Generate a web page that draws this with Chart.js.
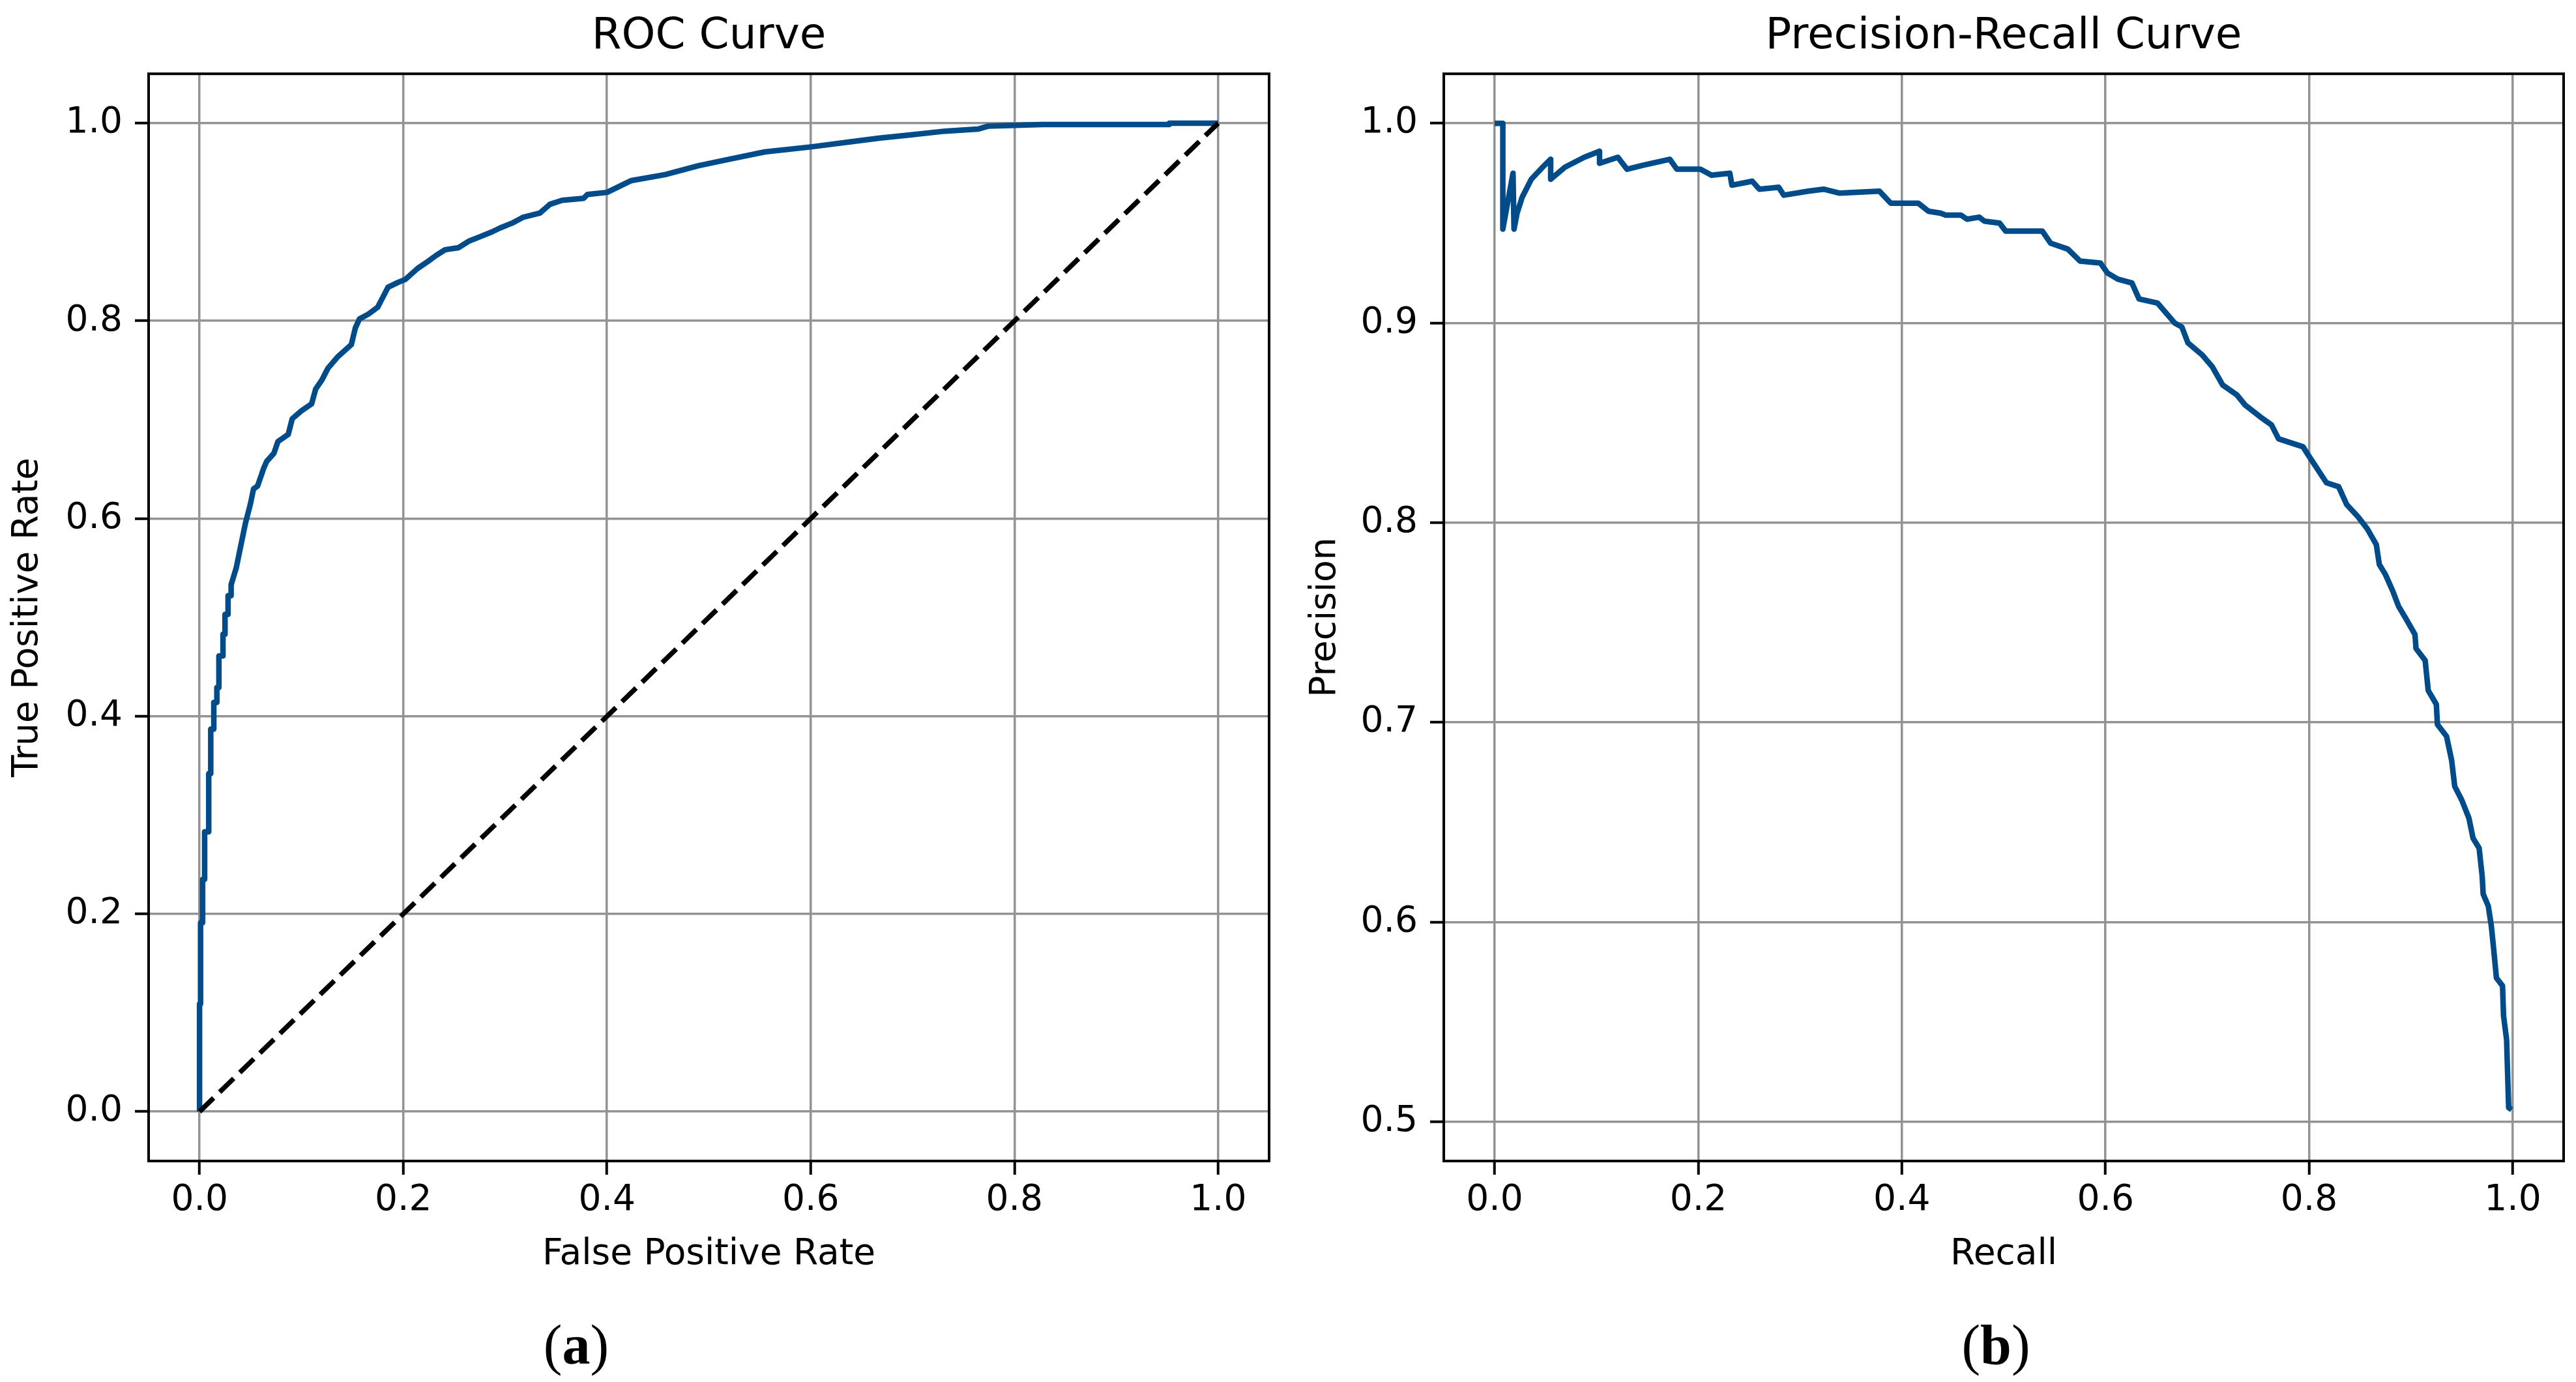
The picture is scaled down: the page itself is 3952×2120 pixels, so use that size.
<!DOCTYPE html>
<html>
<head>
<meta charset="utf-8">
<script src="https://cdn.jsdelivr.net/npm/chart.js@4.4.0/dist/chart.umd.min.js"></script>
<style>
  html, body { margin: 0; padding: 0; background: #ffffff; }
  body { width: 3952px; height: 2120px; position: relative; overflow: hidden; }
  canvas { position: absolute; top: 0; }
  .cap { position: absolute; width: 400px; text-align: center; top: 2020px;
         font-family: "Liberation Serif", "Times New Roman", serif; font-size: 86px;
         line-height: 1; color: #000; font-weight: normal; }
  .cap b { font-weight: bold; }
</style>
</head>
<body>
<canvas id="roc" width="1976" height="2000" style="left:0px;width:1976px;height:2000px"></canvas>
<canvas id="pr" width="1976" height="2000" style="left:1976px;width:1976px;height:2000px"></canvas>
<div class="cap" style="left:684px">(<b>a</b>)</div>
<div class="cap" style="left:2862px">(<b>b</b>)</div>
<script>
// ---------- data ----------
const rocTitle = "ROC Curve";
const prTitle = "Precision-Recall Curve";
const rocXLabel = "False Positive Rate";
const rocYLabel = "True Positive Rate";
const prXLabel = "Recall";
const prYLabel = "Precision";

const xTicks = [0.0, 0.2, 0.4, 0.6, 0.8, 1.0];
const rocYTicks = [0.0, 0.2, 0.4, 0.6, 0.8, 1.0];
const prYTicks = [0.5, 0.6, 0.7, 0.8, 0.9, 1.0];

const rocFpr = [0, 0, 0.001, 0.001, 0.003, 0.003, 0.005, 0.005, 0.009, 0.009, 0.011, 0.011, 0.014, 0.014, 0.017, 0.017, 0.019, 0.019, 0.023, 0.023, 0.025, 0.025, 0.028, 0.028, 0.031, 0.031,
  0.036, 0.040, 0.045, 0.050, 0.053, 0.057, 0.063, 0.066, 0.073, 0.077,
  0.087, 0.091, 0.100, 0.110, 0.114, 0.120, 0.126, 0.136, 0.149, 0.153,
  0.157, 0.166, 0.175, 0.179, 0.185, 0.195, 0.202, 0.214, 0.224, 0.232,
  0.241, 0.254, 0.265, 0.275, 0.287, 0.295, 0.307, 0.318, 0.334, 0.344,
  0.356, 0.377, 0.381, 0.400, 0.424, 0.457, 0.490, 0.522, 0.555, 0.600,
  0.638, 0.668, 0.696, 0.732, 0.764, 0.774, 0.828, 0.952, 0.952, 1.0];
const rocTpr = [0, 0.109, 0.109, 0.191, 0.191, 0.235, 0.235, 0.283, 0.283, 0.342, 0.342, 0.387, 0.387, 0.414, 0.414, 0.429, 0.429, 0.461, 0.461, 0.483, 0.483, 0.503, 0.503, 0.522, 0.522, 0.533,
  0.550, 0.570, 0.595, 0.615, 0.630, 0.633, 0.651, 0.658, 0.666, 0.678,
  0.685, 0.701, 0.709, 0.716, 0.731, 0.740, 0.752, 0.764, 0.776, 0.793,
  0.802, 0.807, 0.814, 0.822, 0.834, 0.839, 0.842, 0.853, 0.860, 0.866,
  0.872, 0.874, 0.881, 0.885, 0.890, 0.894, 0.899, 0.905, 0.909, 0.918,
  0.922, 0.924, 0.928, 0.930, 0.942, 0.948, 0.957, 0.964, 0.971, 0.976,
  0.981, 0.985, 0.988, 0.992, 0.994, 0.997, 0.9987, 0.9987, 1.0, 1.0];

const chanceX = [0, 1];
const chanceY = [0, 1];

const prRecall = [0.000, 0.008, 0.008, 0.018, 0.019, 0.022, 0.027, 0.036, 0.047, 0.055,
  0.055, 0.069, 0.088, 0.103, 0.103, 0.121, 0.130, 0.146, 0.172, 0.179,
  0.202, 0.213, 0.231, 0.233, 0.253, 0.260, 0.279, 0.284, 0.308, 0.323,
  0.339, 0.378, 0.389, 0.416, 0.426, 0.438, 0.443, 0.458, 0.464, 0.476,
  0.481, 0.496, 0.502, 0.538, 0.546, 0.563, 0.575, 0.595, 0.602, 0.612,
  0.626, 0.633, 0.651, 0.668, 0.675, 0.681, 0.695, 0.705, 0.715, 0.729,
  0.737, 0.752, 0.763, 0.770, 0.794, 0.799, 0.817, 0.829, 0.837, 0.848,
  0.857, 0.866, 0.869, 0.875, 0.882, 0.888, 0.895, 0.904, 0.905, 0.914,
  0.917, 0.925, 0.926, 0.935, 0.940, 0.943, 0.950, 0.957, 0.961, 0.967,
  0.970, 0.971, 0.976, 0.979, 0.981, 0.984, 0.990, 0.991, 0.994, 0.996,
  0.999];
const prPrecision = [1.000, 1.000, 0.947, 0.975, 0.947, 0.955, 0.963, 0.972, 0.978, 0.982,
  0.972, 0.978, 0.983, 0.986, 0.980, 0.983, 0.977, 0.979, 0.982, 0.977,
  0.977, 0.974, 0.975, 0.969, 0.971, 0.967, 0.968, 0.964, 0.966, 0.967,
  0.965, 0.966, 0.960, 0.960, 0.956, 0.955, 0.954, 0.954, 0.952, 0.953,
  0.951, 0.950, 0.946, 0.946, 0.940, 0.937, 0.931, 0.930, 0.925, 0.922,
  0.920, 0.912, 0.910, 0.900, 0.898, 0.890, 0.884, 0.878, 0.869, 0.864,
  0.859, 0.853, 0.849, 0.842, 0.838, 0.834, 0.820, 0.818, 0.809, 0.803,
  0.797, 0.789, 0.779, 0.774, 0.766, 0.758, 0.752, 0.744, 0.737, 0.731,
  0.716, 0.709, 0.699, 0.693, 0.681, 0.668, 0.661, 0.652, 0.642, 0.637,
  0.623, 0.614, 0.608, 0.598, 0.588, 0.572, 0.568, 0.553, 0.541, 0.507,
  0.506];

// ---------- styling ----------
const FONT = "DejaVu Sans";
const CURVE_COLOR = "#004b89";
const GRID_COLOR = "#939393";

const framePlugin = {
  id: "frame",
  afterDatasetsDraw(chart) {
    const { ctx, chartArea: a } = chart;
    ctx.save();
    ctx.strokeStyle = "#000";
    ctx.lineWidth = 4;
    ctx.strokeRect(a.left, a.top, a.right - a.left, a.bottom - a.top);
    ctx.restore();
  }
};

function toPts(xs, ys) { return xs.map((x, i) => ({ x: x, y: ys[i] })); }

function makeChart(id, cfg) {
  const tickFont = { family: FONT, size: 55 };
  return new Chart(document.getElementById(id), {
    type: "line",
    data: {
      datasets: cfg.datasets
    },
    options: {
      responsive: false,
      animation: false,
      devicePixelRatio: 1,
      layout: { padding: { left: 0, right: cfg.padRight, top: 0, bottom: 0 } },
      plugins: {
        legend: { display: false },
        tooltip: { enabled: false },
        title: {
          display: true, text: cfg.title, fullSize: false, color: "#000",
          font: { family: FONT, size: 66, weight: "normal" },
          padding: { top: 17, bottom: 17 }
        }
      },
      scales: {
        x: {
          type: "linear", min: -0.05, max: 1.05,
          afterBuildTicks: s => { s.ticks = xTicks.map(v => ({ value: v })); },
          afterFit: s => { s.height = 219; },
          ticks: { font: tickFont, color: "#000", padding: 7, maxRotation: 0, autoSkip: false,
                   callback: v => Number(v).toFixed(1) },
          grid: { color: GRID_COLOR, lineWidth: 3.5, drawTicks: true, tickLength: 21,
                  tickColor: "#000", tickWidth: 4 },
          border: { display: false },
          title: { display: true, text: cfg.xLabel, color: "#000",
                   font: { family: FONT, size: 55, weight: "normal" },
                   padding: { top: 0, bottom: 42 } }
        },
        y: {
          type: "linear", min: cfg.yMin, max: cfg.yMax,
          afterBuildTicks: s => { s.ticks = cfg.yTicks.map(v => ({ value: v })); },
          afterFit: s => { s.width = cfg.yWidth; },
          ticks: { font: tickFont, color: "#000", padding: 19, autoSkip: false,
                   callback: v => Number(v).toFixed(1) },
          grid: { color: GRID_COLOR, lineWidth: 3.5, drawTicks: true, tickLength: 21,
                  tickColor: "#000", tickWidth: 4 },
          border: { display: false },
          title: { display: true, text: cfg.yLabel, color: "#000",
                   font: { family: FONT, size: 55, weight: "normal" },
                   padding: { top: cfg.yTitlePad, bottom: 0 } }
        }
      }
    },
    plugins: [framePlugin]
  });
}

makeChart("roc", {
  title: rocTitle, xLabel: rocXLabel, yLabel: rocYLabel,
  yMin: -0.05, yMax: 1.05, yTicks: rocYTicks, yWidth: 228, padRight: 29, yTitlePad: 10,
  datasets: [
    { data: toPts(rocFpr, rocTpr), borderColor: CURVE_COLOR, borderWidth: 8.5,
      pointRadius: 0, tension: 0, fill: false, borderJoinStyle: "round", order: 1 },
    { data: toPts(chanceX, chanceY), borderColor: "#000000", borderWidth: 7.5,
      borderDash: [30, 13], borderCapStyle: "butt",
      pointRadius: 0, tension: 0, fill: false, order: 0 }
  ]
});

makeChart("pr", {
  title: prTitle, xLabel: prXLabel, yLabel: prYLabel,
  yMin: 0.4803, yMax: 1.0248, yTicks: prYTicks, yWidth: 239, padRight: 19, yTitlePad: 25,
  datasets: [
    { data: toPts(prRecall, prPrecision), borderColor: CURVE_COLOR, borderWidth: 8.5,
      pointRadius: 0, tension: 0, fill: false, borderJoinStyle: "round" }
  ]
});
</script>
</body>
</html>
